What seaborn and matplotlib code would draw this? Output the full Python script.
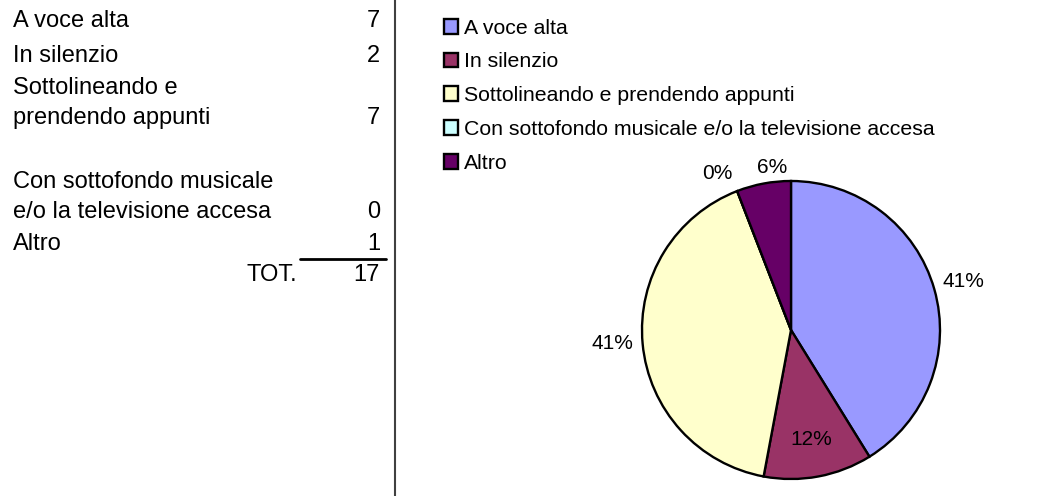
import matplotlib
matplotlib.use("Agg")
import matplotlib.pyplot as plt
import seaborn as sns
import numpy as np
from matplotlib.lines import Line2D

# data
categories = ["A voce alta", "In silenzio", "Sottolineando e prendendo appunti",
              "Con sottofondo musicale e/o la televisione accesa", "Altro"]
table_labels = ["A voce alta", "In silenzio", "Sottolineando e\nprendendo appunti",
                "Con sottofondo musicale\ne/o la televisione accesa", "Altro"]
counts = [7, 2, 7, 0, 1]
colors = ["#9999FF", "#993366", "#FFFFCC", "#CCFFFF", "#660066"]

sns.set_theme(style="white")
plt.rcParams['font.family'] = ['Liberation Sans', 'DejaVu Sans']
plt.rcParams['text.color'] = 'black'

W, H = 1054, 496
fig = plt.figure(figsize=(W / 100, H / 100), dpi=100)
fig.patch.set_facecolor("white")


def fx(px):
    return px / W


def fy(py):
    return 1 - py / H


# left table (baselines in pixels)
row_base = [27, 62, 124, 218, 250]
for lab, val, y in zip(table_labels, counts, row_base):
    lines = lab.split("\n")
    for i, line in enumerate(lines):
        ly = y - 30 * (len(lines) - 1 - i)
        fig.text(fx(13), fy(ly), line, ha="left", va="baseline", fontsize=17)
    fig.text(fx(380), fy(y), str(val), ha="right", va="baseline", fontsize=17)

fig.text(fx(297), fy(281), "TOT.", ha="right", va="baseline", fontsize=17)
fig.text(fx(380), fy(281), str(sum(counts)), ha="right", va="baseline", fontsize=17)
fig.add_artist(Line2D([fx(300), fx(386)], [fy(259), fy(259)], color="black", lw=2))
fig.add_artist(Line2D([fx(395), fx(395)], [0, 1], color="#404040", lw=1.5))

# pie
cx, cy, r = 791, 330, 149
ax = fig.add_axes([fx(cx - r), fy(cy + r), 2 * r / W, 2 * r / H])
wedges, _ = ax.pie(counts, colors=colors, startangle=90, counterclock=False,
                   wedgeprops=dict(edgecolor="black", linewidth=1.7))
ax.set_xlim(-1, 1)
ax.set_ylim(-1, 1)
ax.set_aspect("equal")
ax.axis("off")

total = sum(counts)
dist = [1.2, 0.75, 1.2, 1.16, 1.1]
shift = [0, 0, -1, 4, -4]  # degrees
for w, c, d, s in zip(wedges, counts, dist, shift):
    ang = np.deg2rad((w.theta1 + w.theta2) / 2 + s)
    ax.text(d * np.cos(ang), d * np.sin(ang), f"{c / total:.0%}",
            ha="center", va="center", fontsize=15, clip_on=False)

# legend
fig.legend(wedges, categories, loc="upper left",
           bbox_to_anchor=(fx(435), fy(10)), frameon=False, fontsize=15.3,
           handlelength=0.7, handleheight=0.7, handletextpad=0.25,
           labelspacing=0.7, borderaxespad=0)

fig.savefig("out.png", dpi=100)
